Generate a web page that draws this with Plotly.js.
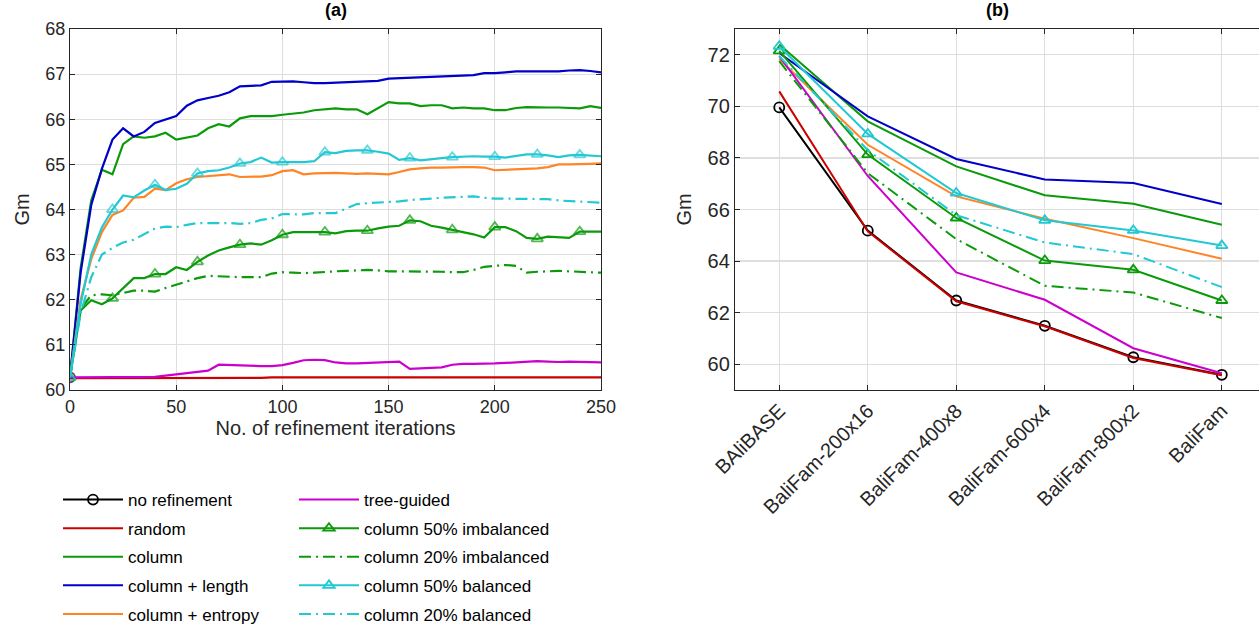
<!DOCTYPE html>
<html>
<head>
<meta charset="utf-8">
<script src="https://cdn.plot.ly/plotly-3.0.1.min.js"></script>
<style>html,body{margin:0;padding:0;background:#fff;}#chart{width:1259px;height:625px;}</style>
</head>
<body>
<div id="chart"></div>
<script>
// ---------- Panel (a): refinement iterations ----------
const iterations = [0,5,10,15,20,25,30,35,40,45,50,55,60,65,70,75,80,85,90,95,100,105,110,115,120,125,130,135,140,145,150,155,160,165,170,175,180,185,190,195,200,205,210,215,220,225,230,235,240,245,250];

const aNoRefinement = [60.28];
const aNoRefinementIter = [0];
const aRandom = [60.26,60.26,60.27,60.27,60.27,60.27,60.27,60.27,60.27,60.27,60.27,60.27,60.27,60.27,60.27,60.27,60.27,60.27,60.27,60.28,60.28,60.28,60.28,60.28,60.28,60.28,60.28,60.28,60.28,60.28,60.28,60.28,60.28,60.28,60.28,60.28,60.28,60.28,60.28,60.28,60.28,60.28,60.28,60.28,60.28,60.28,60.28,60.28,60.28,60.28,60.28];
const aColumn = [60.28,62.7,64.2,64.88,64.78,65.45,65.62,65.59,65.62,65.7,65.55,65.6,65.64,65.8,65.89,65.84,66.02,66.07,66.07,66.07,66.1,66.13,66.15,66.2,66.22,66.24,66.22,66.22,66.11,66.25,66.38,66.35,66.35,66.29,66.31,66.31,66.24,66.26,66.24,66.24,66.2,66.2,66.25,66.27,66.26,66.26,66.26,66.25,66.24,66.29,66.25];
const aColumnLength = [60.28,62.6,64.1,64.9,65.55,65.8,65.62,65.72,65.92,66.0,66.07,66.3,66.42,66.47,66.52,66.6,66.73,66.74,66.75,66.83,66.84,66.84,66.82,66.8,66.8,66.81,66.82,66.83,66.84,66.85,66.9,66.91,66.92,66.93,66.94,66.95,66.96,66.97,66.98,67.02,67.02,67.04,67.06,67.06,67.06,67.06,67.06,67.08,67.09,67.07,67.04];
const aColumnEntropy = [60.28,62.0,62.9,63.5,63.88,63.98,64.26,64.28,64.46,64.43,64.58,64.67,64.72,64.74,64.76,64.78,64.72,64.73,64.73,64.76,64.85,64.87,64.78,64.8,64.81,64.81,64.8,64.79,64.8,64.79,64.78,64.83,64.89,64.91,64.93,64.93,64.94,64.94,64.94,64.93,64.87,64.88,64.88,64.9,64.91,64.94,65.0,65.0,65.0,65.01,65.02];
const aTreeGuided = [60.28,60.28,60.28,60.28,60.28,60.28,60.28,60.28,60.29,60.32,60.35,60.38,60.4,60.43,60.56,60.55,60.54,60.53,60.53,60.53,60.55,60.6,60.66,60.67,60.66,60.61,60.59,60.59,60.6,60.61,60.62,60.63,60.47,60.48,60.49,60.5,60.56,60.58,60.58,60.58,60.59,60.6,60.61,60.63,60.64,60.63,60.62,60.63,60.62,60.61,60.61];
const aCol50Imb = [60.28,61.76,61.99,61.9,62.03,62.25,62.48,62.48,62.57,62.57,62.72,62.66,62.84,62.98,63.09,63.16,63.22,63.25,63.22,63.32,63.44,63.5,63.5,63.5,63.5,63.47,63.52,63.53,63.53,63.58,63.62,63.64,63.76,63.74,63.64,63.6,63.55,63.51,63.45,63.38,63.61,63.61,63.52,63.37,63.35,63.4,63.38,63.37,63.51,63.51,63.51];
const aCol20Imb = [60.28,61.8,62.1,62.12,62.1,62.15,62.2,62.2,62.18,62.26,62.33,62.4,62.48,62.53,62.52,62.5,62.5,62.5,62.5,62.58,62.61,62.6,62.59,62.6,62.62,62.63,62.64,62.65,62.66,62.65,62.63,62.63,62.63,62.63,62.62,62.62,62.61,62.61,62.66,62.73,62.75,62.77,62.75,62.6,62.62,62.63,62.64,62.63,62.62,62.6,62.6];
const aCol50Bal = [60.28,61.9,63.0,63.6,64.0,64.31,64.27,64.42,64.55,64.43,64.46,64.57,64.8,64.85,64.87,64.93,65.02,65.05,65.15,65.04,65.05,65.05,65.05,65.07,65.27,65.25,65.3,65.31,65.31,65.28,65.24,65.1,65.14,65.09,65.12,65.14,65.16,65.17,65.18,65.17,65.17,65.15,65.19,65.22,65.22,65.2,65.16,65.2,65.21,65.2,65.18];
const aCol20Bal = [60.28,61.7,62.5,63.0,63.15,63.27,63.33,63.46,63.58,63.62,63.61,63.66,63.7,63.7,63.7,63.7,63.68,63.7,63.77,63.8,63.9,63.9,63.89,63.92,63.92,63.92,64.02,64.12,64.14,64.15,64.16,64.18,64.21,64.22,64.24,64.26,64.27,64.28,64.29,64.26,64.24,64.24,64.24,64.24,64.24,64.23,64.2,64.19,64.18,64.16,64.15];

// ---------- Panel (b): datasets ----------
const datasets = ['BAliBASE','BaliFam-200x16','BaliFam-400x8','BaliFam-600x4','BaliFam-800x2','BaliFam'];
const bNoRefinement  = [69.96,65.18,62.47,61.49,60.27,59.59];
const bRandom        = [70.58,65.15,62.44,61.47,60.24,59.57];
const bColumn        = [72.40,69.42,67.67,66.55,66.22,65.41];
const bColumnLength  = [72.07,69.61,67.96,67.16,67.03,66.21];
const bColumnEntropy = [71.84,68.51,66.51,65.64,64.89,64.09];
const bTreeGuided    = [71.95,67.30,63.56,62.50,60.62,59.65];
const bCol50Imb      = [72.15,68.13,65.67,64.02,63.66,62.47];
const bCol20Imb      = [71.75,67.41,64.85,63.04,62.78,61.79];
const bCol50Bal      = [72.33,68.93,66.64,65.58,65.19,64.60];
const bCol20Bal      = [71.95,68.30,65.78,64.72,64.27,62.99];

const names = ['no refinement','random','column','column + length','column + entropy',
               'tree-guided','column 50% imbalanced','column 20% imbalanced','column 50% balanced','column 20% balanced'];

const C = {black:'#000000', red:'#cc0000', green:'#0a9a0a', blue:'#0000c8', orange:'#ff8426', magenta:'#cc00cc', cyan:'#22c8d2'};
const FONT = 'Liberation Sans, Arial, sans-serif';
const DASHDOT = '12px,5px,2px,5px';

const series = [
  {name:names[0], color:C.black,   dash:'solid', a:aNoRefinement, ax:aNoRefinementIter, b:bNoRefinement, sym:'circle-open', legend:'legend'},
  {name:names[1], color:C.red,     dash:'solid', a:aRandom,        b:bRandom,        legend:'legend'},
  {name:names[2], color:C.green,   dash:'solid', a:aColumn,        b:bColumn,        legend:'legend'},
  {name:names[3], color:C.blue,    dash:'solid', a:aColumnLength,  b:bColumnLength,  legend:'legend'},
  {name:names[4], color:C.orange,  dash:'solid', a:aColumnEntropy, b:bColumnEntropy, legend:'legend'},
  {name:names[5], color:C.magenta, dash:'solid', a:aTreeGuided,    b:bTreeGuided,    legend:'legend2'},
  {name:names[6], color:C.green,   dash:'solid', a:aCol50Imb,      b:bCol50Imb, sym:'triangle-up-open', legend:'legend2'},
  {name:names[7], color:C.green,   dash:DASHDOT, a:aCol20Imb,      b:bCol20Imb, legend:'legend2'},
  {name:names[8], color:C.cyan,    dash:'solid', a:aCol50Bal,      b:bCol50Bal, sym:'triangle-up-open', legend:'legend2'},
  {name:names[9], color:C.cyan,    dash:DASHDOT, a:aCol20Bal,      b:bCol20Bal, legend:'legend2'}
];

const traces = [];
series.forEach((s, k) => {
  const xa = s.ax || iterations;
  const tA = {
    x: xa, y: s.a, xaxis:'x', yaxis:'y', type:'scatter',
    mode: s.sym ? 'lines+markers' : 'lines',
    line:{color:s.color, width:2.2, dash:s.dash},
    name:s.name, legendgroup:'g'+k, showlegend:false
  };
  if (s.sym) {
    // markers every 20 iterations
    tA.marker = {symbol:s.sym, color:s.color, size: xa.map(v => (v % 20 === 0 ? 10 : 0)), line:{width:1.8, color:s.color}};
  }
  traces.push(tA);
});
series.forEach((s, k) => {
  const tB = {
    x: datasets, y: s.b, xaxis:'x2', yaxis:'y2', type:'scatter',
    mode: s.sym ? 'lines+markers' : 'lines',
    line:{color:s.color, width:2, dash:s.dash},
    name:s.name, legendgroup:'g'+k, showlegend:true, legend:s.legend
  };
  if (s.sym) {
    tB.marker = {symbol:s.sym, color:s.color, size:10, line:{width:1.8, color:s.color}};
  }
  traces.push(tB);
});

const axisCommon = {
  showline:true, linecolor:'#262626', linewidth:1.2, ticks:'inside', ticklen:5, tickcolor:'#262626',
  showgrid:true, gridcolor:'#dedede', gridwidth:1.2, zeroline:false,
  tickfont:{family:FONT, size:18, color:'#262626'}
};

const legendCommon = {
  orientation:'v', xanchor:'left', yanchor:'top', bgcolor:'rgba(0,0,0,0)',
  font:{family:FONT, size:17, color:'#000'}, tracegroupgap:3.5, itemwidth:60
};

const layout = {
  width:1259, height:625,
  margin:{l:0, r:0, t:0, b:0, autoexpand:false},
  paper_bgcolor:'#fff', plot_bgcolor:'#fff',
  font:{family:FONT, color:'#262626'},
  xaxis: Object.assign({}, axisCommon, {
    domain:[70/1259, 601/1259], range:[0,250], tickvals:[0,50,100,150,200,250], mirror:'ticks', anchor:'y',
    title:{text:'No. of refinement iterations', font:{family:FONT, size:20, color:'#262626'}, standoff:2}
  }),
  yaxis: Object.assign({}, axisCommon, {
    domain:[1-390/625, 1-29/625], range:[60,68], tickvals:[60,61,62,63,64,65,66,67,68], mirror:'ticks', anchor:'x',
    title:{text:'Gm', font:{family:FONT, size:20, color:'#262626'}, standoff:10}
  }),
  xaxis2: Object.assign({}, axisCommon, {
    domain:[735/1259, 1], type:'category', range:[-0.5, 5.42], mirror:'ticks', anchor:'y2',
    tickangle:-45, tickfont:{family:FONT, size:20, color:'#262626'}
  }),
  yaxis2: Object.assign({}, axisCommon, {
    domain:[1-390/625, 1-29/625], range:[59,73], tickvals:[60,62,64,66,68,70,72], mirror:false, anchor:'x2',
    tickfont:{family:FONT, size:20, color:'#262626'},
    title:{text:'Gm', font:{family:FONT, size:20, color:'#262626'}, standoff:10}
  }),
  legend: Object.assign({}, legendCommon, {x:58/1259, y:1-482/625}),
  legend2: Object.assign({}, legendCommon, {x:294/1259, y:1-482/625}),
  annotations:[
    {text:'<b>(a)</b>', xref:'x domain', yref:'paper', x:0.5, y:1-10/625, showarrow:false,
     font:{family:FONT, size:18, color:'#000'}, xanchor:'center', yanchor:'middle'},
    {text:'<b>(b)</b>', xref:'x2 domain', yref:'paper', x:0.5, y:1-10/625, showarrow:false,
     font:{family:FONT, size:18, color:'#000'}, xanchor:'center', yanchor:'middle'}
  ],
  showlegend:true
};

Plotly.newPlot('chart', traces, layout, {staticPlot:true, displayModeBar:false});
</script>
</body>
</html>
